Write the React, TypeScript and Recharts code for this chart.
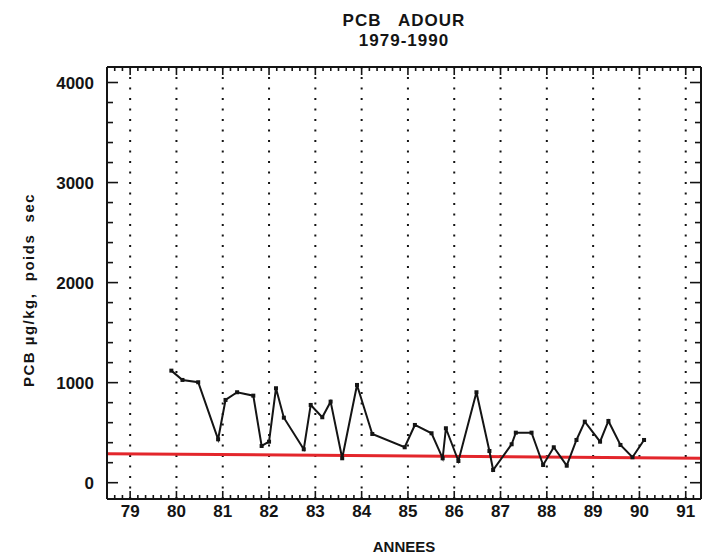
import React from "react";
import {
  LineChart, Line, XAxis, YAxis, ReferenceLine, Label
} from "recharts";

// PCB sampling campaigns, Adour (decimal year, µg/kg dry weight)
const pcbYears = [
  79.89, 80.13, 80.47, 80.9, 81.06, 81.31, 81.66, 81.84, 82.0, 82.15,
  82.32, 82.75, 82.9, 83.15, 83.33, 83.58, 83.9, 84.23, 84.93, 85.15,
  85.51, 85.75, 85.82, 86.09, 86.48, 86.76, 86.84, 87.24, 87.33, 87.67,
  87.92, 88.15, 88.43, 88.64, 88.82, 89.15, 89.33, 89.59, 89.85, 90.1,
];
const pcbValues = [
  1120, 1027, 1004, 434, 827, 904, 870, 367, 410, 944,
  650, 334, 777, 654, 810, 244, 977, 487, 354, 577,
  494, 244, 544, 217, 904, 317, 127, 384, 500, 500,
  177, 354, 170, 427, 610, 410, 617, 377, 254, 427,
];

// regression line, end points
const trendYears = [78.5, 91.33];
const trendValues = [290, 245];

const yearTicks = [79, 80, 81, 82, 83, 84, 85, 86, 87, 88, 89, 90, 91];

const X_DOMAIN: [number, number] = [78.5, 91.33];
const Y_DOMAIN: [number, number] = [-163, 4155];

// two-month sub ticks on the year axis, 200 steps on the value axis
const monthTicks: number[] = [];
for (let yr = 78; yr <= 91; yr++) {
  for (let m = 0; m < 6; m++) {
    const t = yr + m / 6;
    if (t >= X_DOMAIN[0] - 1e-6 && t <= X_DOMAIN[1] + 1e-6) monthTicks.push(t);
  }
}
const subValueTicks: number[] = [];
for (let v = 0; v <= 4000; v += 200) subValueTicks.push(v);

const pcbData = pcbYears.map((x, i) => ({ x, v: pcbValues[i] }));
const trendData = trendYears.map((x, i) => ({ x, v: trendValues[i] }));

const FONT = "'Liberation Sans', Arial, sans-serif";
const INK = "#141414";

const isWhole = (v: number) => Math.abs(v - Math.round(v)) < 1e-6;

function BottomTick({ x, y, payload }: any) {
  const major = isWhole(payload.value);
  return (
    <g>
      <line x1={x} x2={x} y1={y} y2={y - (major ? 8 : 4)} stroke={INK} strokeWidth={1.6} />
      {major && (
        <text x={x} y={y + 12} textAnchor="middle" dominantBaseline="central"
          fontFamily={FONT} fontWeight="bold" fontSize={17} fill={INK}>
          {Math.round(payload.value)}
        </text>
      )}
    </g>
  );
}

function TopTick({ x, y, payload }: any) {
  const major = isWhole(payload.value);
  return <line x1={x} x2={x} y1={y} y2={y + (major ? 8 : 4)} stroke={INK} strokeWidth={1.6} />;
}

function LeftTick({ x, y, payload }: any) {
  const major = payload.value % 1000 === 0;
  return (
    <g>
      <line x1={x} x2={x + (major ? 11 : 6)} y1={y} y2={y} stroke={INK} strokeWidth={1.6} />
      {major && (
        <text x={x - 13} y={y + 1} textAnchor="end" dominantBaseline="central"
          fontFamily={FONT} fontWeight="bold" fontSize={17} fill={INK}>
          {payload.value}
        </text>
      )}
    </g>
  );
}

function RightTick({ x, y, payload }: any) {
  const major = payload.value % 1000 === 0;
  return <line x1={x} x2={x - (major ? 11 : 6)} y1={y} y2={y} stroke={INK} strokeWidth={1.6} />;
}

function SquareDot({ cx, cy }: any) {
  if (cx == null || cy == null) return null;
  return <rect x={cx - 2} y={cy - 2} width={4} height={4} fill={INK} />;
}

function TitleLabel({ viewBox }: any) {
  const cx = viewBox.x + viewBox.width / 2;
  return (
    <g fontFamily={FONT} fontWeight="bold" fontSize={17} letterSpacing={1} fill={INK} textAnchor="middle">
      <text x={cx} y={20} dominantBaseline="central" style={{ whiteSpace: "pre" }}>{"PCB   ADOUR"}</text>
      <text x={cx} y={40} dominantBaseline="central">1979-1990</text>
    </g>
  );
}

function YTitle({ viewBox }: any) {
  const cx = viewBox.x - 29;
  const cy = 290;
  return (
    <text x={cx} y={cy} transform={`rotate(-90 ${cx} ${cy})`} textAnchor="middle"
      dominantBaseline="central" fontFamily={FONT} fontWeight="bold" fontSize={15}
      letterSpacing={1.5} fill={INK} style={{ whiteSpace: "pre" }}>
      {"PCB µg/kg,  poids  sec"}
    </text>
  );
}

function XTitle({ viewBox }: any) {
  return (
    <text x={viewBox.x + viewBox.width / 2} y={546} textAnchor="middle" dominantBaseline="central"
      fontFamily={FONT} fontWeight="bold" fontSize={15} fill={INK}>
      ANNEES
    </text>
  );
}

export default function App() {
  return (
    <div style={{ position: "absolute", left: 0, top: 0, width: 708, height: 560, background: "#fff" }}>
      <LineChart width={708} height={560} margin={{ top: 66, right: 6, bottom: 31, left: 57 }}>
        <XAxis xAxisId="b" type="number" dataKey="x" domain={X_DOMAIN} allowDataOverflow
          ticks={monthTicks} interval={0} tickSize={0} tickMargin={0} height={30}
          axisLine={{ stroke: INK, strokeWidth: 2 }} tickLine={false} tick={<BottomTick />}>
          <Label content={<XTitle />} />
        </XAxis>
        <XAxis xAxisId="t" orientation="top" type="number" dataKey="x" domain={X_DOMAIN} allowDataOverflow
          ticks={monthTicks} interval={0} tickSize={0} tickMargin={0} height={1}
          axisLine={{ stroke: INK, strokeWidth: 2 }} tickLine={false} tick={<TopTick />}>
          <Label content={<TitleLabel />} />
        </XAxis>
        <YAxis yAxisId="l" type="number" domain={Y_DOMAIN} allowDataOverflow
          ticks={subValueTicks} interval={0} tickSize={0} tickMargin={0} width={50}
          axisLine={{ stroke: INK, strokeWidth: 2 }} tickLine={false} tick={<LeftTick />}>
          <Label content={<YTitle />} />
        </YAxis>
        <YAxis yAxisId="r" orientation="right" type="number" domain={Y_DOMAIN} allowDataOverflow
          ticks={subValueTicks} interval={0} tickSize={0} tickMargin={0} width={1}
          axisLine={{ stroke: INK, strokeWidth: 2 }} tickLine={false} tick={<RightTick />} />

        {yearTicks.map((yr) => (
          <ReferenceLine key={yr} x={yr} xAxisId="b" yAxisId="l"
            stroke={INK} strokeWidth={2} strokeDasharray="2 8.5" />
        ))}

        <Line xAxisId="b" yAxisId="l" data={trendData} dataKey="v" type="linear"
          stroke="#e3262b" strokeWidth={3} dot={false} isAnimationActive={false} />
        <Line xAxisId="b" yAxisId="l" data={pcbData} dataKey="v" type="linear"
          stroke={INK} strokeWidth={2} dot={<SquareDot />} activeDot={false} isAnimationActive={false} />
        {/* keep the top and right frame axes tied to a scale */}
        <Line xAxisId="t" yAxisId="r" data={trendData} dataKey="v" stroke="none" dot={false}
          activeDot={false} isAnimationActive={false} />
      </LineChart>
    </div>
  );
}
